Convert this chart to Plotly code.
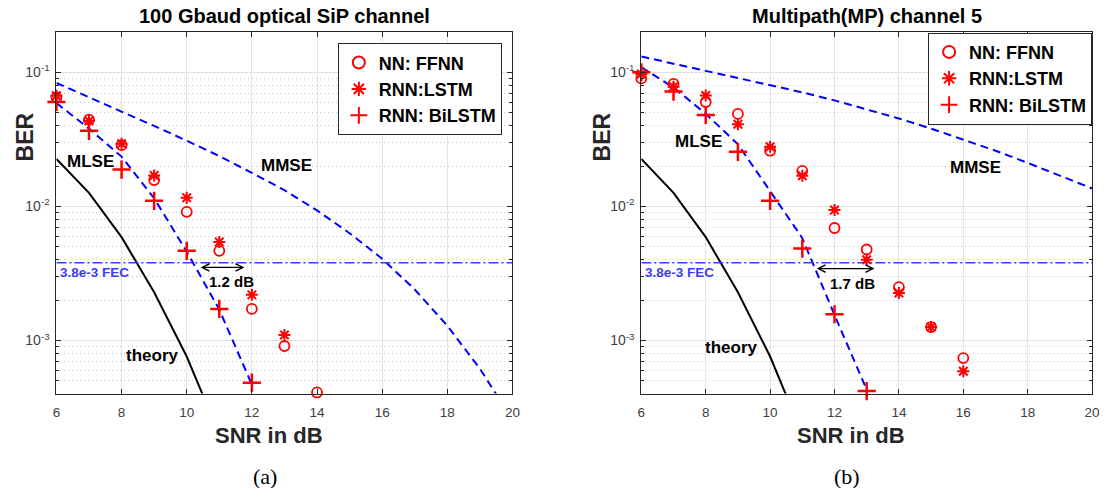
import plotly.graph_objects as go

# ---------------- data ----------------
snr_nn_a = [6, 7, 8, 9, 10, 11, 12, 13, 14]
ffnn_a = [0.065, 0.0443, 0.0286, 0.0157, 0.0091, 0.00466, 0.00172, 0.00091, 0.00041]
snr_lstm_a = [6, 7, 8, 9, 10, 11, 12, 13]
lstm_a = [0.0667, 0.0435, 0.0293, 0.017, 0.0116, 0.00543, 0.00219, 0.0011]
snr_bi_a = [6, 7, 8, 9, 10, 11, 12]
bilstm_a = [0.060, 0.0366, 0.0188, 0.011, 0.00466, 0.00172, 0.000485]

snr_mlse_a = [6, 7, 8, 9, 10, 11, 12]
mlse_a = [0.059, 0.038, 0.0235, 0.0115, 0.0046, 0.0017, 0.00047]
snr_mmse_a = [6, 7, 8, 9, 10, 11, 12, 13, 14, 15, 16, 17, 18, 19, 20]
mmse_a = [0.0832, 0.0653, 0.0513, 0.0398, 0.0309, 0.0237, 0.0178, 0.0132,
          0.00933, 0.00631, 0.00407, 0.0024, 0.00129, 0.000617, 0.000257]

snr_theory = [6, 7, 8, 9, 10, 11]
theory = [0.0226, 0.0126, 0.0059, 0.00229, 0.00076, 0.0002]

snr_nn_b = [6, 7, 8, 9, 10, 11, 12, 13, 14, 15, 16]
ffnn_b = [0.090, 0.082, 0.060, 0.0489, 0.026, 0.0184, 0.0069, 0.00477, 0.0025, 0.00126, 0.00074]
lstm_b = [0.097, 0.078, 0.067, 0.041, 0.0278, 0.0169, 0.0094, 0.0040, 0.00226, 0.00126, 0.00059]
snr_bi_b = [6, 7, 8, 9, 10, 11, 12, 13]
bilstm_b = [0.10, 0.0717, 0.048, 0.0255, 0.011, 0.00485, 0.00157, 0.00042]

snr_mlse_b = [6, 7, 8, 9, 10, 11, 12, 13]
mlse_b = [0.109, 0.077, 0.049, 0.029, 0.013, 0.0058, 0.00155, 0.00043]
snr_mmse_b = [6, 7, 8, 9, 10, 11, 12, 13, 14, 15, 16, 17, 18, 19, 20]
mmse_b = [0.131, 0.116, 0.103, 0.0912, 0.0804, 0.0708, 0.0617, 0.0531,
          0.0452, 0.038, 0.0316, 0.026, 0.0211, 0.017, 0.0136]

fec_snr = [6, 20]
fec_level = 3.8e-3

x_ticks = [6, 8, 10, 12, 14, 16, 18, 20]
y_ticks = [1e-3, 1e-2, 1e-1]
y_ticktext = ["10<sup>-3</sup>", "10<sup>-2</sup>", "10<sup>-1</sup>"]
y_minor = [m * d for d in (1e-4, 1e-3, 1e-2, 1e-1) for m in range(2, 10)]

titles = ["100 Gbaud optical SiP channel", "Multipath(MP) channel 5"]
arrow_from = [10.38, 11.40]
arrow_to = [11.77, 13.24]
arrow_log = [-2.455, -2.464]

# ---------------- style ----------------
FONT = "Liberation Sans, Arial, Helvetica, sans-serif"
RED = "#ff0000"
BLUE = "#0000ff"
FECBLUE = "#3b3bff"
AX = "#262626"

fig = go.Figure()


def add_panel(k, snr_nn, ffnn, snr_lstm, lstm, snr_bi, bil, snr_mlse, mlse, snr_mmse, mmse):
    xa = "x" if k == 0 else "x2"
    ya = "y" if k == 0 else "y2"
    lg = "legend" if k == 0 else "legend2"
    fig.add_trace(go.Scatter(x=snr_theory, y=theory, mode="lines", line=dict(color="black", width=2),
                             showlegend=False, xaxis=xa, yaxis=ya))
    fig.add_trace(go.Scatter(x=snr_mlse, y=mlse, mode="lines", line=dict(color=BLUE, width=2, dash="8px,5px"),
                             showlegend=False, xaxis=xa, yaxis=ya))
    fig.add_trace(go.Scatter(x=snr_mmse, y=mmse, mode="lines", line=dict(color=BLUE, width=2, dash="8px,5px"),
                             showlegend=False, xaxis=xa, yaxis=ya))
    fig.add_trace(go.Scatter(x=fec_snr, y=[fec_level] * len(fec_snr), mode="lines",
                             line=dict(color=FECBLUE, width=1.6, dash="10px,3px,2px,3px"),
                             showlegend=False, xaxis=xa, yaxis=ya))
    fig.add_trace(go.Scatter(x=snr_nn, y=ffnn, mode="markers", name="NN: FFNN",
                             marker=dict(symbol="circle-open", size=10, color=RED, line=dict(width=1.8, color=RED)),
                             cliponaxis=False, legend=lg, xaxis=xa, yaxis=ya))
    fig.add_trace(go.Scatter(x=snr_lstm, y=lstm, mode="markers", name="RNN:LSTM",
                             marker=dict(symbol="asterisk-open", size=10, color=RED, line=dict(width=2, color=RED)),
                             cliponaxis=False, legend=lg, xaxis=xa, yaxis=ya))
    fig.add_trace(go.Scatter(x=snr_bi, y=bil, mode="markers", name="RNN: BiLSTM",
                             marker=dict(symbol="cross-thin-open", size=13, color=RED, line=dict(width=2.5, color=RED)),
                             cliponaxis=False, legend=lg, xaxis=xa, yaxis=ya))


add_panel(0, snr_nn_a, ffnn_a, snr_lstm_a, lstm_a, snr_bi_a, bilstm_a, snr_mlse_a, mlse_a, snr_mmse_a, mmse_a)
add_panel(1, snr_nn_b, ffnn_b, snr_nn_b, lstm_b, snr_bi_b, bilstm_b, snr_mlse_b, mlse_b, snr_mmse_b, mmse_b)

W, H = 1109, 488
ydom = [1 - 393.5 / H, 1 - 32 / H]
xdoms = [[53 / W, 514 / W], [644.3 / W, 1100 / W]]


def xaxis_cfg(dom, anchor):
    return dict(domain=dom, anchor=anchor, range=[6, 20], tickvals=x_ticks,
                showgrid=True, gridcolor="#e3e3e3", gridwidth=1,
                showline=True, linecolor=AX, linewidth=1, mirror="ticks",
                ticks="inside", ticklen=5, tickcolor=AX, zeroline=False,
                ticklabelstandoff=6,
                tickfont=dict(family=FONT, size=13.5, color="#404040"))


def yaxis_cfg(anchor):
    return dict(domain=ydom, anchor=anchor, type="log", range=[-3.395, -0.70],
                tickvals=y_ticks, ticktext=y_ticktext,
                showgrid=True, gridcolor="#e3e3e3", gridwidth=1,
                showline=True, linecolor=AX, linewidth=1, mirror="ticks",
                ticks="inside", ticklen=5, tickcolor=AX, zeroline=False,
                ticklabelstandoff=3,
                tickfont=dict(family=FONT, size=14, color="#404040"),
                minor=dict(tickvals=y_minor, showgrid=True, griddash="1px,3px", gridcolor="#c8c8c8",
                           gridwidth=1, ticks="inside", ticklen=3, tickcolor=AX))


legend_common = dict(xanchor="right", yanchor="top", bgcolor="white", bordercolor=AX, borderwidth=1,
                     font=dict(family=FONT, size=18, color="black", weight="bold"),
                     tracegroupgap=0, itemsizing="constant")

fig.update_layout(
    width=W, height=H, autosize=False,
    margin=dict(l=0, r=0, t=0, b=0),
    paper_bgcolor="white", plot_bgcolor="white",
    xaxis=xaxis_cfg(xdoms[0], "y"), yaxis=yaxis_cfg("x"),
    xaxis2=xaxis_cfg(xdoms[1], "y2"), yaxis2=yaxis_cfg("x2"),
    legend=dict(x=503.3 / W, y=1 - 43.3 / H, **legend_common),
    legend2=dict(x=1100 / W, y=1 - 32.7 / H, **legend_common),
)

ann = []
bold = lambda s: dict(family=FONT, size=s, color="black", weight="bold")
for k in range(2):
    xa = "x" if k == 0 else "x2"
    ya = "y" if k == 0 else "y2"
    cx = (xdoms[k][0] + xdoms[k][1]) / 2
    ann.append(dict(text=titles[k], xref="paper", yref="paper", x=cx, y=1 - 16 / H,
                    xanchor="center", yanchor="middle", showarrow=False, font=bold(20)))
    ann.append(dict(text="SNR in dB", xref="paper", yref="paper", x=cx - 16 / W, y=1 - 435 / H,
                    xanchor="center", yanchor="middle", showarrow=False,
                    font=dict(family=FONT, size=22, color=AX, weight="bold")))
    ann.append(dict(text="(a)" if k == 0 else "(b)", xref="paper", yref="paper", x=cx - 20 / W,
                    y=1 - 476 / H, xanchor="center", yanchor="middle", showarrow=False,
                    font=dict(family="Liberation Serif, DejaVu Serif, serif", size=22, color="black")))
    ann.append(dict(text="BER", xref="paper", yref="paper", x=(21.7 if k == 0 else 605) / W,
                    y=1 - 137 / H, xanchor="center", yanchor="middle", textangle=-90, showarrow=False,
                    font=dict(family=FONT, size=23, color=AX, weight="bold")))
    # double-headed arrow showing the SNR gain
    ann.append(dict(text="", xref=xa, yref=ya, x=arrow_to[k], y=arrow_log[k], axref=xa, ayref=ya,
                    ax=arrow_from[k], ay=arrow_log[k], showarrow=True, arrowside="end+start",
                    arrowhead=5, arrowsize=1.1, arrowwidth=1.3, arrowcolor="black"))

labels_a = [("MLSE", 7.06, -1.667), ("MMSE", 13.05, -1.692), ("theory", 8.95, -3.108), ("1.2 dB", 11.375, -2.561)]
labels_b = [("MLSE", 7.79, -1.518), ("MMSE", 16.37, -1.712), ("theory", 8.79, -3.051), ("1.7 dB", 12.57, -2.573)]
for k, labs in enumerate([labels_a, labels_b]):
    xa = "x" if k == 0 else "x2"
    ya = "y" if k == 0 else "y2"
    for t, x, y in labs:
        ann.append(dict(text=t, xref=xa, yref=ya, x=x, y=y, xanchor="center", yanchor="middle",
                        showarrow=False, font=bold(15 if "dB" in t else 17)))
    ann.append(dict(text="3.8e-3 FEC", xref=xa, yref=ya, x=6.06, y=-2.495, xanchor="left", yanchor="middle",
                    showarrow=False, font=dict(family=FONT, size=13.5, color=FECBLUE, weight="bold")))

fig.update_layout(annotations=ann)
fig.write_html("out.html")
